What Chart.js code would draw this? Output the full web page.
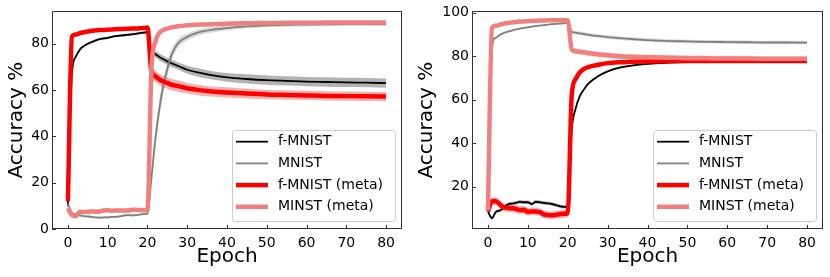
<!DOCTYPE html>
<html>
<head>
<meta charset="utf-8">
<script src="https://cdn.jsdelivr.net/npm/chart.js@4.4.1/dist/chart.umd.min.js"></script>
<style>
    body { margin: 0; background: #fff; }
    .panel { position: absolute; top: 0; width: 415px; height: 277px; }
</style>
</head>
<body>
<div class="panel" style="left:0"><canvas id="leftChart"></canvas></div>
<div class="panel" style="left:415px"><canvas id="rightChart"></canvas></div>
<script>
// Epochs sampled from the figure
const epochs = [0,1,2,3,4,5,6,7,8,9,10,11,12,13,14,15,16,17,18,19,20,
                21,22,23,24,25,26,27,28,30,33,36,40,45,50,55,60,65,70,75,80];
const xTicks = [0,10,20,30,40,50,60,70,80];
const leftYTicks = [0,20,40,60,80];
const rightYTicks = [20,40,60,80,100];
const seriesLabels = ['f-MNIST', 'MNIST', 'f-MNIST (meta)', 'MINST (meta)'];

// Left panel: mean accuracy and spread
const leftFmnist = [10,67,74.5,77.5,79,80,80.8,81.5,82,82.3,82.6,83,83.3,83.5,83.7,83.9,84.1,84.3,84.6,84.8,85,
                    77,75.5,74.3,73.3,72.4,71.6,70.9,70.2,68.8,67.5,66.5,65.5,64.8,64.3,64,63.7,63.5,63.3,63.2,63];
const leftFmnistSd = [1,0.5,0.5,0.5,0.5,0.5,0.5,0.5,0.5,0.5,0.5,0.5,0.5,0.5,0.5,0.5,0.5,0.5,0.5,0.5,0.5,
                      1.2,1.4,1.5,1.5,1.5,1.6,1.6,1.6,1.7,1.8,1.8,1.9,2,2,2,2,2,2,2,2];
const leftMnist = [11,7,6.2,5.9,5.6,5.4,5.2,5,4.9,5,5,5.2,5.2,5.5,5.8,6,5.9,6,6.2,6.4,6.6,
                   22,39,52,62,69,75,78.5,80.8,83,85,86,86.8,87.5,88,88.2,88.3,88.4,88.5,88.5,88.5];
const leftMnistSd = [0.5,0.5,0.5,0.5,0.5,0.5,0.5,0.5,0.5,0.5,0.5,0.5,0.5,0.5,0.5,0.5,0.5,0.5,0.5,0.5,0.5,
                     3,4,4,3.5,3,2.5,2,1.8,1.5,1.3,1.2,1,0.8,0.8,0.8,0.8,0.8,0.8,0.8,0.8];
const leftFmnistMeta = [12,83,84,84.6,85,85.3,85.6,85.8,86,86,86.1,86.2,86.3,86.4,86.4,86.5,86.6,86.6,86.7,86.8,87,
                        68,66,64.6,63.7,63,62.4,62,61.6,60.8,60,59.4,59,58.5,58.1,57.9,57.7,57.5,57.4,57.3,57.2];
const leftFmnistMetaSd = [0.4,0.4,0.4,0.4,0.4,0.4,0.4,0.4,0.4,0.4,0.4,0.4,0.4,0.4,0.4,0.4,0.4,0.4,0.4,0.4,0.4,
                          2.5,2.5,2.5,2.5,2.5,2.5,2.5,2.5,2.3,2.3,2.2,2.2,2.1,2.1,2,2,2,2,2,2];
const leftMnistMeta = [9,6,5.5,7.5,7.3,7.5,7.6,7.5,7.6,8,8.1,7.9,8,8,8,8,8.2,8.3,8.2,8.1,8.2,
                       69,81,84.7,86,86.6,87.1,87.4,87.6,88,88.3,88.5,88.7,88.9,89,89.1,89.1,89.2,89.2,89.2,89.2];
const leftMnistMetaSd = [0.8,0.8,0.8,0.8,0.8,0.8,0.8,0.8,0.8,0.8,0.8,0.8,0.8,0.8,0.8,0.8,0.8,0.8,0.8,0.8,0.8,
                         2.5,1.5,0.8,0.8,0.8,0.8,0.8,0.8,0.8,0.8,0.8,0.8,0.8,0.8,0.8,0.8,0.8,0.8,0.8,0.8];

// Right panel
const rightFmnist = [8.5,5.5,8.4,9,10.4,11.8,12.2,12.5,13,12.8,12.8,12,13,12.8,12.5,12.3,12,11.5,11,10.7,10.8,
                     46,56,61.5,64.5,67,68.7,70,71.2,73,74.7,75.7,76.5,77,77.3,77.4,77.5,77.5,77.6,77.6,77.6];
const rightFmnistSd = [0.8,0.8,0.8,0.8,0.8,0.8,0.8,0.8,0.8,0.8,0.8,0.8,0.8,0.8,0.8,0.8,0.8,0.8,0.8,0.8,0.8,
                       0.4,0.4,0.4,0.4,0.4,0.4,0.4,0.4,0.4,0.4,0.4,0.4,0.4,0.4,0.4,0.4,0.4,0.4,0.4,0.4];
const rightMnist = [8.5,84,88.5,89.8,90.7,91.3,91.8,92.3,92.7,93,93.3,93.6,93.9,94.1,94.3,94.5,94.7,94.9,95,95.1,95.3,
                    91.2,90.8,90.5,90.2,89.9,89.6,89.4,89.2,88.8,88.3,87.9,87.4,87,86.8,86.6,86.5,86.4,86.3,86.3,86.2];
const rightMnistSd = [0.3,0.3,0.3,0.3,0.3,0.3,0.3,0.3,0.3,0.3,0.3,0.3,0.3,0.3,0.3,0.3,0.3,0.3,0.3,0.3,0.3,
                      0.8,0.8,0.8,0.8,0.8,0.8,0.8,0.8,0.8,0.8,0.8,0.8,0.8,0.8,0.8,0.8,0.8,0.8,0.8,0.8];
const rightFmnistMeta = [8.5,13.3,13.3,11.8,10.4,10.2,10,9.7,9.2,9.3,8.4,8.6,8.5,8.3,7.2,6.9,6.8,7,7.3,7.5,7.8,
                         62,69.5,72.5,74,74.9,75.4,75.8,76.2,76.8,77.2,77.4,77.6,77.7,77.8,77.8,77.8,77.8,77.8,77.8,77.8];
const rightFmnistMetaSd = [1.8,1.8,1.8,1.8,1.8,1.8,1.8,1.8,1.8,1.8,1.8,1.8,1.8,1.8,1.8,1.8,1.8,1.8,1.8,1.8,1.8,
                           0.5,0.5,0.5,0.5,0.5,0.5,0.5,0.5,0.5,0.5,0.5,0.5,0.5,0.5,0.5,0.5,0.5,0.5,0.5,0.5];
const rightMnistMeta = [9,93,94,94.5,95,95.3,95.5,95.7,96,96,96.1,96.2,96.3,96.4,96.4,96.5,96.5,96.5,96.5,96.5,96.5,
                        83,82.3,82,81.8,81.5,81.2,81,80.8,80.4,80,79.7,79.5,79.3,79.1,79,78.9,78.9,78.8,78.8,78.8];
const rightMnistMetaSd = [3,0.4,0.4,0.4,0.4,0.4,0.4,0.4,0.4,0.4,0.4,0.4,0.4,0.4,0.4,0.4,0.4,0.4,0.4,0.4,0.4,
                          1.3,1.3,1.3,1.3,1.3,1.3,1.3,1.3,1.3,1.3,1.3,1.3,1.3,1.3,1.3,1.3,1.3,1.3,1.3,1.3];

// Styles for the four series (line colour, band colour, width)
const lineColors = ['#000000', '#808080', '#ff0000', '#f08080'];
const bandColors = ['rgba(128,128,128,0.6)', 'rgba(128,128,128,0.3)', 'rgba(240,128,128,0.6)', 'rgba(240,128,128,0.35)'];
const lineWidths = [1.8, 1.8, 4.5, 4.5];

const FONT = 'DejaVu Sans';

function toPoints(values) {
    return epochs.map((e, i) => ({ x: e, y: values[i] }));
}

function buildDatasets(means, sds) {
    let datasets = [];
    means.forEach((mean, i) => {
        let lower = mean.map((v, k) => v - sds[i][k]);
        let upper = mean.map((v, k) => v + sds[i][k]);
        // band: lower edge, then upper edge filled to previous dataset
        datasets.push({ data: toPoints(lower), borderWidth: 0, pointRadius: 0, fill: false, order: 20 + i, cubicInterpolationMode: 'monotone' });
        datasets.push({ data: toPoints(upper), borderWidth: 0, pointRadius: 0, fill: '-1', backgroundColor: bandColors[i], order: 20 + i, cubicInterpolationMode: 'monotone' });
        datasets.push({
            label: seriesLabels[i],
            data: toPoints(mean),
            borderColor: lineColors[i],
            borderWidth: lineWidths[i],
            pointRadius: 0,
            fill: false,
            cubicInterpolationMode: 'monotone',
            order: 4 - i
        });
    });
    return datasets;
}

// Frame, inward ticks and the legend box
const decorations = {
    id: 'decorations',
    afterDraw(chart) {
        const ctx = chart.ctx;
        const a = chart.chartArea;
        ctx.save();
        ctx.strokeStyle = '#333';
        ctx.lineWidth = 1;
        ctx.strokeRect(Math.round(a.left) + 0.5, Math.round(a.top) + 0.5, Math.round(a.right - a.left) - 1, Math.round(a.bottom - a.top) - 1);

        ctx.beginPath();
        chart.scales.x.ticks.forEach(t => {
            let px = Math.round(chart.scales.x.getPixelForValue(t.value)) + 0.5;
            ctx.moveTo(px, a.bottom);
            ctx.lineTo(px, a.bottom - 4);
        });
        chart.scales.y.ticks.forEach(t => {
            let py = Math.round(chart.scales.y.getPixelForValue(t.value)) + 0.5;
            ctx.moveTo(a.left, py);
            ctx.lineTo(a.left + 4, py);
        });
        ctx.stroke();

        // legend
        const w = 163, h = 91;
        const bx = a.right - 7 - w, by = a.bottom - 8 - h;
        ctx.fillStyle = 'rgba(255,255,255,0.85)';
        ctx.strokeStyle = '#cccccc';
        ctx.beginPath();
        ctx.roundRect(bx + 0.5, by + 0.5, w, h, 3);
        ctx.fill();
        ctx.stroke();
        ctx.font = '14px "' + FONT + '"';
        ctx.textBaseline = 'middle';
        ctx.textAlign = 'left';
        seriesLabels.forEach((label, i) => {
            let y = by + 11.7 + i * 21.7;
            ctx.strokeStyle = lineColors[i];
            ctx.lineWidth = lineWidths[i];
            ctx.beginPath();
            ctx.moveTo(bx + 4, y);
            ctx.lineTo(bx + 36, y);
            ctx.stroke();
            ctx.fillStyle = '#000';
            ctx.fillText(label, bx + 46, y);
        });
        ctx.restore();
    }
};

function makeChart(canvasId, means, sds, yTicks, yMin, yMax, yWidth, titlePad, rightPad, topPad) {
    return new Chart(document.getElementById(canvasId).getContext('2d'), {
        type: 'line',
        data: { datasets: buildDatasets(means, sds) },
        options: {
            responsive: true,
            maintainAspectRatio: false,
            animation: false,
            layout: { padding: { left: 0, right: rightPad, top: topPad, bottom: 0 } },
            plugins: { legend: { display: false }, tooltip: { enabled: false } },
            scales: {
                x: {
                    type: 'linear',
                    min: -4,
                    max: 84,
                    afterBuildTicks: s => { s.ticks = xTicks.map(v => ({ value: v })); },
                    afterFit: s => { s.height = 48; },
                    grid: { display: false, drawTicks: false },
                    border: { display: false },
                    ticks: { padding: 6, color: '#000', font: { family: FONT, size: 14 } },
                    title: { display: true, text: 'Epoch', color: '#000', padding: { top: 0, bottom: 8 }, font: { family: FONT, size: 20 } }
                },
                y: {
                    type: 'linear',
                    min: yMin,
                    max: yMax,
                    afterBuildTicks: s => { s.ticks = yTicks.map(v => ({ value: v })); },
                    afterFit: s => { s.width = yWidth; },
                    grid: { display: false, drawTicks: false },
                    border: { display: false },
                    ticks: { padding: 3, color: '#000', font: { family: FONT, size: 14 } },
                    title: { display: true, text: 'Accuracy %', color: '#000', padding: { top: titlePad, bottom: 0 }, font: { family: FONT, size: 20 } }
                }
            }
        },
        plugins: [decorations]
    });
}

let leftChart = makeChart('leftChart',
    [leftFmnist, leftMnist, leftFmnistMeta, leftMnistMeta],
    [leftFmnistSd, leftMnistSd, leftFmnistMetaSd, leftMnistMetaSd],
    leftYTicks, 0, 94, 52, 4.7, 13, 10);

let rightChart = makeChart('rightChart',
    [rightFmnist, rightMnist, rightFmnistMeta, rightMnistMeta],
    [rightFmnistSd, rightMnistSd, rightFmnistMetaSd, rightMnistMetaSd],
    rightYTicks, 0.5, 100.6, 57, 0, 7, 11);
</script>
</body>
</html>
